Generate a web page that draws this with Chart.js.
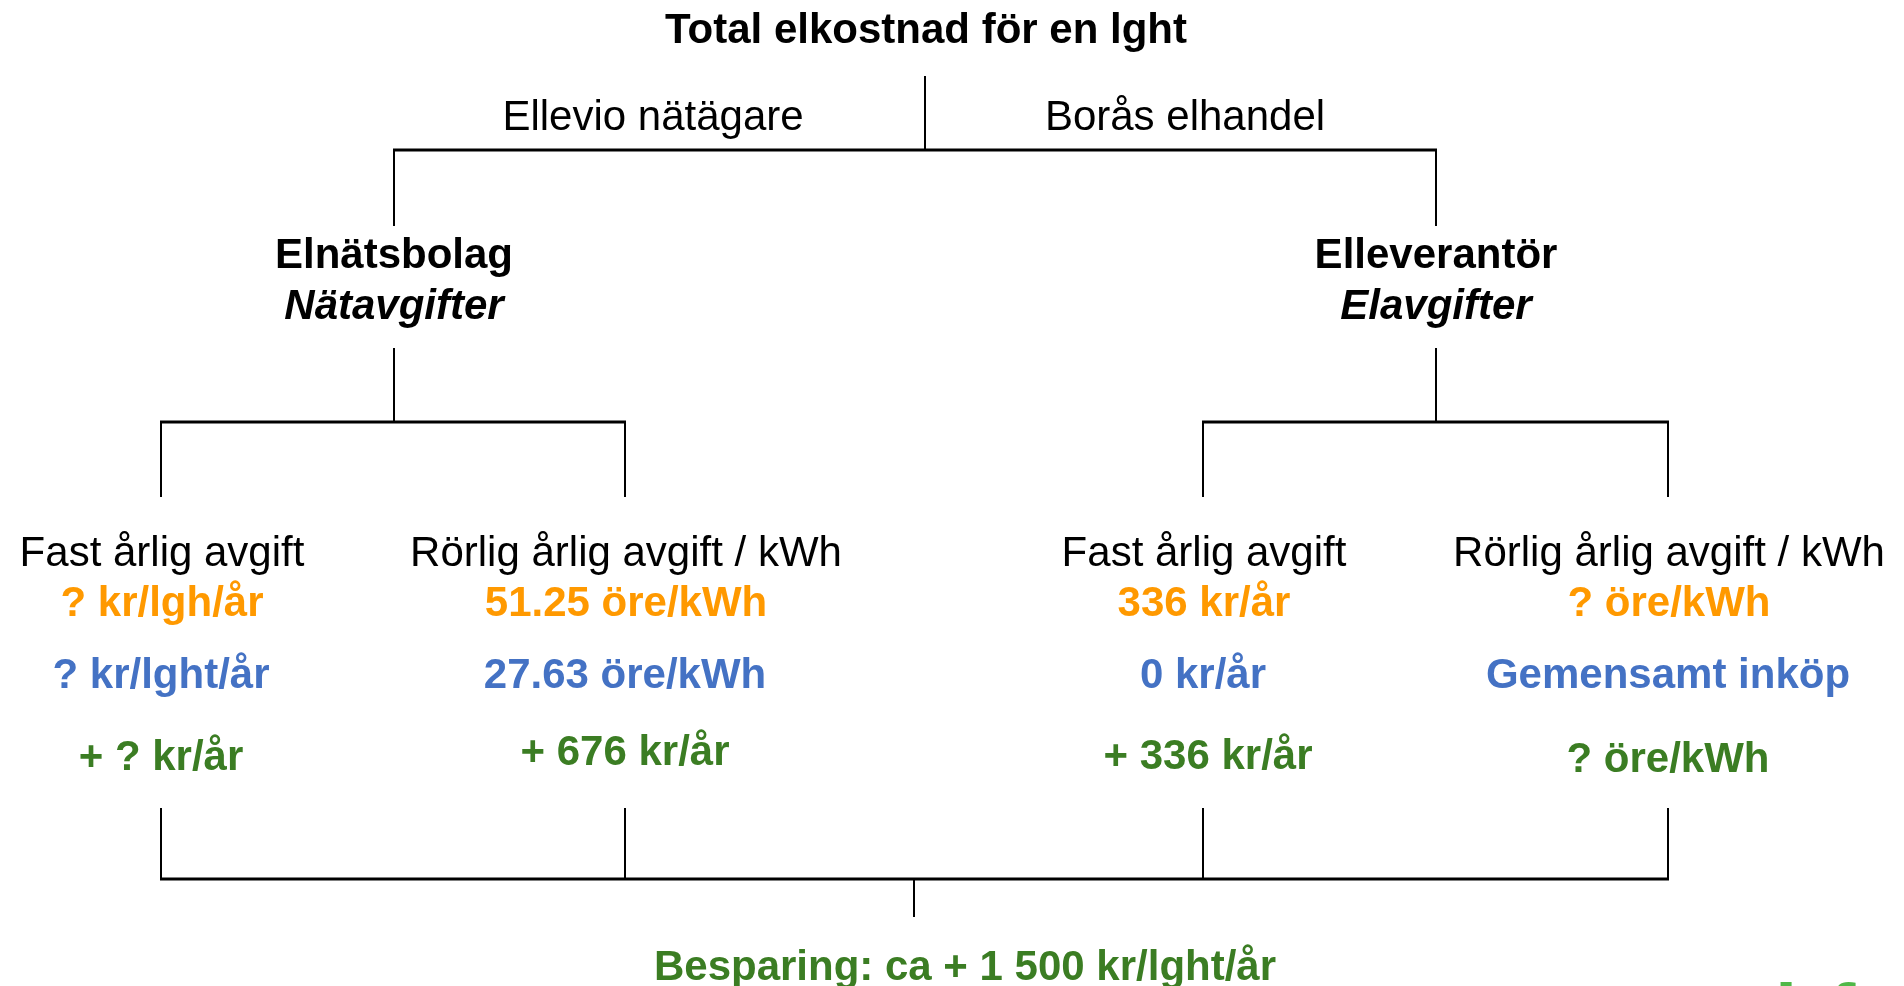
<!DOCTYPE html>
<html>
<head>
<meta charset="utf-8">
<script src="https://cdn.jsdelivr.net/npm/chart.js@4.4.1/dist/chart.umd.min.js"></script>
<style>
html,body{margin:0;padding:0;background:#fff;overflow:hidden;}
#wrap{width:1904px;height:986px;}
</style>
</head>
<body>
<div id="wrap"><canvas id="c" width="1904" height="986"></canvas></div>
<script>
// ---- Data (texts of the cost tree) ----
const title = 'Total elkostnad för en lght';
const providers = ['Ellevio nätägare', 'Borås elhandel'];
const companyTypes = ['Elnätsbolag', 'Elleverantör'];
const feeTypes = ['Nätavgifter', 'Elavgifter'];
const feeCategories = ['Fast årlig avgift', 'Rörlig årlig avgift / kWh', 'Fast årlig avgift', 'Rörlig årlig avgift / kWh'];
const currentPrices = ['? kr/lgh/år', '51.25 öre/kWh', '336 kr/år', '? öre/kWh'];
const groupPrices = ['? kr/lght/år', '27.63 öre/kWh', '0 kr/år', 'Gemensamt inköp'];
const savings = ['+ ? kr/år', '+ 676 kr/år', '+ 336 kr/år', '? öre/kWh'];
const totalSaving = 'Besparing: ca + 1 500 kr/lght/år';

// ---- Layout (in diagram units on a 1904 x 986 grid) ----
const rootX = 925, sumX = 914;
const midX = [394, 1436];
const leafX = [161, 625, 1203, 1668];
const providerX = [653, 1185];
const yRow = {
  title: 43, provider: 130, topBar: 150, midTop: 226, company: 268, fee: 319,
  midBottom: 348, leafBar: 422, leafTop: 497, cat: 566, cur: 616, grp: 688,
  sav: 769, leafBottom: 808, sumBar: 879, sumEnd: 917, total: 980
};
const savingY = [770, 765, 769, 772];
const savingDX = [0, 0, 5, 0];

const COLORS = { black: '#000000', orange: '#FF9900', blue: '#4472C4', green: '#3B7D23', logo: '#50B848' };

function seg(x1, y1, x2, y2, w) {
  return {
    data: [{x: x1, y: y1}, {x: x2, y: y2}],
    showLine: true, borderColor: COLORS.black, borderWidth: w,
    pointRadius: 0, fill: false, borderCapStyle: 'butt'
  };
}

const datasets = [];
// root
datasets.push(seg(rootX, 76, rootX, yRow.topBar, 2));
datasets.push(seg(midX[0] - 1, yRow.topBar, midX[1] + 1, yRow.topBar, 3));
midX.forEach(x => {
  datasets.push(seg(x, yRow.topBar, x, yRow.midTop, 2));
  datasets.push(seg(x, yRow.midBottom, x, yRow.leafBar, 2));
});
datasets.push(seg(leafX[0] - 1, yRow.leafBar, leafX[1] + 1, yRow.leafBar, 3));
datasets.push(seg(leafX[2] - 1, yRow.leafBar, leafX[3] + 1, yRow.leafBar, 3));
leafX.forEach(x => {
  datasets.push(seg(x, yRow.leafBar, x, yRow.leafTop, 2));
  datasets.push(seg(x, yRow.leafBottom, x, yRow.sumBar, 2));
});
datasets.push(seg(leafX[0] - 1, yRow.sumBar, leafX[3] + 1, yRow.sumBar, 3));
datasets.push(seg(sumX, yRow.sumBar, sumX, yRow.sumEnd, 2));

const FONT = '"Liberation Sans", Arial, sans-serif';

const textPlugin = {
  id: 'treeText',
  afterDatasetsDraw(chart) {
    const ctx = chart.ctx;
    const sx = chart.scales.x, sy = chart.scales.y;
    const put = (txt, x, y, color, style) => {
      ctx.save();
      ctx.font = style + ' 42px ' + FONT;
      ctx.fillStyle = color;
      ctx.textAlign = 'center';
      ctx.textBaseline = 'alphabetic';
      ctx.fillText(txt, sx.getPixelForValue(x), sy.getPixelForValue(y));
      ctx.restore();
    };
    put(title, 926, yRow.title, COLORS.black, 'bold');
    providers.forEach((t, i) => put(t, providerX[i], yRow.provider, COLORS.black, 'normal'));
    companyTypes.forEach((t, i) => put(t, midX[i], yRow.company, COLORS.black, 'bold'));
    feeTypes.forEach((t, i) => put(t, midX[i], yRow.fee, COLORS.black, 'italic bold'));
    feeCategories.forEach((t, i) => put(t, leafX[i] + 1, yRow.cat, COLORS.black, 'normal'));
    currentPrices.forEach((t, i) => put(t, leafX[i] + 1, yRow.cur, COLORS.orange, 'bold'));
    groupPrices.forEach((t, i) => put(t, leafX[i], yRow.grp, COLORS.blue, 'bold'));
    savings.forEach((t, i) => put(t, leafX[i] + savingDX[i], savingY[i], COLORS.green, 'bold'));
    put(totalSaving, 965, yRow.total, COLORS.green, 'bold');
    // cut-off logo at bottom right
    ctx.save();
    ctx.font = 'bold 80px ' + FONT;
    ctx.fillStyle = COLORS.logo;
    ctx.textAlign = 'center';
    ctx.fillText('i', sx.getPixelForValue(1786), sy.getPixelForValue(1040));
    ctx.fillText('f', sx.getPixelForValue(1842), sy.getPixelForValue(1040));
    ctx.restore();
  }
};

new Chart(document.getElementById('c'), {
  type: 'scatter',
  data: { datasets },
  options: {
    responsive: false,
    maintainAspectRatio: false,
    devicePixelRatio: 1,
    animation: false,
    layout: { padding: 0 },
    plugins: { legend: { display: false }, tooltip: { enabled: false } },
    scales: {
      x: { type: 'linear', min: 0, max: 1904, display: false },
      y: { type: 'linear', min: 0, max: 986, reverse: true, display: false }
    }
  },
  plugins: [textPlugin]
});
</script>
</body>
</html>
